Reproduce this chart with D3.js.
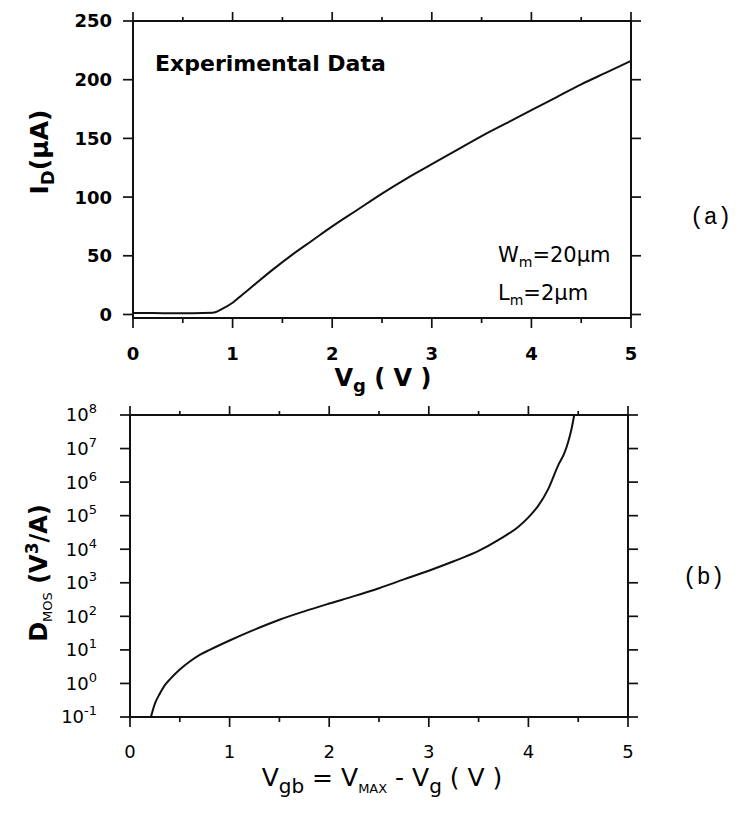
<!DOCTYPE html>
<html>
<head>
<meta charset="utf-8">
<script src="https://cdn.jsdelivr.net/npm/d3@7"></script>
<style>
    body { margin: 0; background: #fff; }
    svg { font-family: "DejaVu Sans", sans-serif; }
    .tick-mark { stroke: #111; stroke-width: 1.7; }
    .frame { fill: none; stroke: #111; stroke-width: 2; }
    .curve { fill: none; stroke: #111; stroke-width: 2; }
    .panel-tag { font-family: "Liberation Mono", "DejaVu Sans Mono", monospace; font-size: 23px; }
</style>
</head>
<body>
<div id="wrapper"></div>
<script>
// (a) drain current vs gate voltage
const vgTop = [0, 0.2, 0.4, 0.6, 0.8, 0.9, 1.0, 1.1, 1.2, 1.4, 1.6, 1.8, 2.0, 2.25, 2.5, 2.75, 3.0, 3.25, 3.5, 3.75, 4.0, 4.25, 4.5, 4.75, 5.0]
const idTop = [1.2, 1.2, 1.1, 1.1, 1.5, 5, 10, 17, 24, 38, 51, 63, 75, 89, 103, 116, 128, 140, 152, 163, 174, 185, 196, 206, 216]

// (b) D_MOS vs Vgb
const vgbBottom = [0.21, 0.25, 0.3, 0.35, 0.4, 0.5, 0.6, 0.7, 0.8, 1.0, 1.25, 1.5, 1.75, 2.0, 2.25, 2.5, 2.75, 3.0, 3.25, 3.5, 3.7, 3.9, 4.0, 4.1, 4.2, 4.3, 4.36, 4.4, 4.43, 4.46]
const dmosBottom = [0.1, 0.25, 0.5, 0.89, 1.32, 2.6, 4.5, 7.1, 10, 19, 40, 79, 141, 240, 400, 690, 1260, 2290, 4370, 8900, 1.9e4, 4.7e4, 8.9e4, 2.0e5, 6.3e5, 3.2e6, 7.2e6, 1.6e7, 3.5e7, 1e8]

const xTicks = [0, 1, 2, 3, 4, 5]
const xMinorTicks = [0.5, 1.5, 2.5, 3.5, 4.5]
const topYTicks = [0, 50, 100, 150, 200, 250]
const bottomYTicks = [1e-1, 1e0, 1e1, 1e2, 1e3, 1e4, 1e5, 1e6, 1e7, 1e8]
const bottomYExponents = ['-1', '0', '1', '2', '3', '4', '5', '6', '7', '8']

const svg = d3.select('#wrapper')
    .append('svg')
    .attr('width', 738)
    .attr('height', 816)

// draws the outward ticks on all four sides of a panel
function drawTicks(g, x, y, yTicks, box) {
    const marks = g.append('g')
    const major = 10, minor = 5
    xTicks.forEach(d => {
        marks.append('line').attr('class', 'tick-mark')
            .attr('x1', x(d)).attr('x2', x(d))
            .attr('y1', box.bottom).attr('y2', box.bottom + major)
        marks.append('line').attr('class', 'tick-mark')
            .attr('x1', x(d)).attr('x2', x(d))
            .attr('y1', box.top).attr('y2', box.top - 9)
    })
    xMinorTicks.forEach(d => {
        marks.append('line').attr('class', 'tick-mark')
            .attr('x1', x(d)).attr('x2', x(d))
            .attr('y1', box.bottom).attr('y2', box.bottom + minor)
        marks.append('line').attr('class', 'tick-mark')
            .attr('x1', x(d)).attr('x2', x(d))
            .attr('y1', box.top).attr('y2', box.top - 4)
    })
    yTicks.forEach(d => {
        marks.append('line').attr('class', 'tick-mark')
            .attr('x1', box.left - major).attr('x2', box.left)
            .attr('y1', y(d)).attr('y2', y(d))
        marks.append('line').attr('class', 'tick-mark')
            .attr('x1', box.right).attr('x2', box.right + major)
            .attr('y1', y(d)).attr('y2', y(d))
    })
    g.append('rect').attr('class', 'frame')
        .attr('x', box.left).attr('y', box.top)
        .attr('width', box.right - box.left)
        .attr('height', box.bottom - box.top)
}

// ---------- panel (a) ----------
const boxA = { left: 133, right: 631, top: 21, bottom: 318 }
const xA = d3.scaleLinear().domain([0, 5]).range([boxA.left, boxA.right])
const yA = d3.scaleLinear().domain([-3, 250]).range([boxA.bottom, boxA.top])

const panelA = svg.append('g')
drawTicks(panelA, xA, yA, topYTicks, boxA)

panelA.selectAll('.ylab')
    .data(topYTicks)
    .join('text')
    .attr('x', 112)
    .attr('y', d => yA(d))
    .attr('dy', '0.36em')
    .attr('text-anchor', 'end')
    .attr('font-size', 18)
    .attr('font-weight', 'bold')
    .text(d => d)

panelA.selectAll('.xlab')
    .data(xTicks)
    .join('text')
    .attr('x', d => xA(d))
    .attr('y', 360)
    .attr('text-anchor', 'middle')
    .attr('font-size', 18)
    .attr('font-weight', 'bold')
    .text(d => d)

const lineA = d3.line()
    .x((d, i) => xA(vgTop[i]))
    .y(d => yA(d))
    .curve(d3.curveMonotoneX)

panelA.append('path')
    .attr('class', 'curve')
    .attr('d', lineA(idTop))

panelA.append('text')
    .attr('x', 155).attr('y', 71)
    .attr('font-size', 22).attr('font-weight', 'bold')
    .text('Experimental Data')

const wText = panelA.append('text').attr('x', 498).attr('y', 262).attr('font-size', 21)
wText.append('tspan').text('W')
wText.append('tspan').attr('font-size', 14).attr('dy', 5).text('m')
wText.append('tspan').attr('dy', -5).text('=20µm')

const lText = panelA.append('text').attr('x', 498).attr('y', 300).attr('font-size', 21)
lText.append('tspan').text('L')
lText.append('tspan').attr('font-size', 14).attr('dy', 5).text('m')
lText.append('tspan').attr('dy', -5).text('=2µm')

const xTitleA = panelA.append('text')
    .attr('x', 383).attr('y', 386)
    .attr('text-anchor', 'middle')
    .attr('font-size', 24).attr('font-weight', 'bold')
xTitleA.append('tspan').text('V')
xTitleA.append('tspan').attr('font-size', 18).attr('dy', 6).text('g')
xTitleA.append('tspan').attr('dy', -6).text(' ( V )')

const yTitleA = panelA.append('text')
    .attr('transform', 'translate(48,152) rotate(-90)')
    .attr('text-anchor', 'middle')
    .attr('font-size', 25).attr('font-weight', 'bold')
yTitleA.append('tspan').text('I')
yTitleA.append('tspan').attr('font-size', 18).attr('dy', 6).text('D')
yTitleA.append('tspan').attr('dy', -6).text('(µA)')

svg.append('text')
    .attr('class', 'panel-tag')
    .attr('x', 690).attr('y', 224)
    .text('(a)')

// ---------- panel (b) ----------
const boxB = { left: 130, right: 628, top: 415, bottom: 717 }
const xB = d3.scaleLinear().domain([0, 5]).range([boxB.left, boxB.right])
const yB = d3.scaleLog().domain([1e-1, 1e8]).range([boxB.bottom, boxB.top])

const panelB = svg.append('g')
drawTicks(panelB, xB, yB, bottomYTicks, boxB)

const yLabB = panelB.selectAll('.ylabb')
    .data(bottomYTicks)
    .join('text')
    .attr('x', 97)
    .attr('y', d => yB(d))
    .attr('dy', '0.36em')
    .attr('text-anchor', 'end')
    .attr('font-size', 18)
yLabB.append('tspan').text('10')
yLabB.append('tspan')
    .attr('font-size', 13)
    .attr('dy', -8)
    .text((d, i) => bottomYExponents[i])

panelB.selectAll('.xlabb')
    .data(xTicks)
    .join('text')
    .attr('x', d => xB(d))
    .attr('y', 758)
    .attr('text-anchor', 'middle')
    .attr('font-size', 18)
    .text(d => d)

const lineB = d3.line()
    .x((d, i) => xB(vgbBottom[i]))
    .y(d => yB(d))
    .curve(d3.curveMonotoneX)

panelB.append('path')
    .attr('class', 'curve')
    .attr('d', lineB(dmosBottom))

const xTitleB = panelB.append('text')
    .attr('x', 382).attr('y', 786)
    .attr('text-anchor', 'middle')
    .attr('font-size', 25)
xTitleB.append('tspan').text('V')
xTitleB.append('tspan').attr('font-size', 20).attr('dy', 7).text('gb')
xTitleB.append('tspan').attr('dy', -7).text(' = V')
xTitleB.append('tspan').attr('font-size', 13).attr('dy', 7).text('MAX')
xTitleB.append('tspan').attr('dy', -7).text(' - V')
xTitleB.append('tspan').attr('font-size', 20).attr('dy', 7).text('g')
xTitleB.append('tspan').attr('dy', -7).text(' ( V )')

const yTitleB = panelB.append('text')
    .attr('transform', 'translate(47,573) rotate(-90)')
    .attr('text-anchor', 'middle')
    .attr('font-size', 24).attr('font-weight', 'bold')
yTitleB.append('tspan').text('D')
yTitleB.append('tspan').attr('font-size', 13).attr('font-weight', 'normal').attr('dy', 5).text('MOS')
yTitleB.append('tspan').attr('dy', -5).text(' (V')
yTitleB.append('tspan').attr('font-size', 17).attr('dy', -9).text('3')
yTitleB.append('tspan').attr('dy', 9).text('/A)')

svg.append('text')
    .attr('class', 'panel-tag')
    .attr('x', 683).attr('y', 584)
    .text('(b)')
</script>
</body>
</html>
